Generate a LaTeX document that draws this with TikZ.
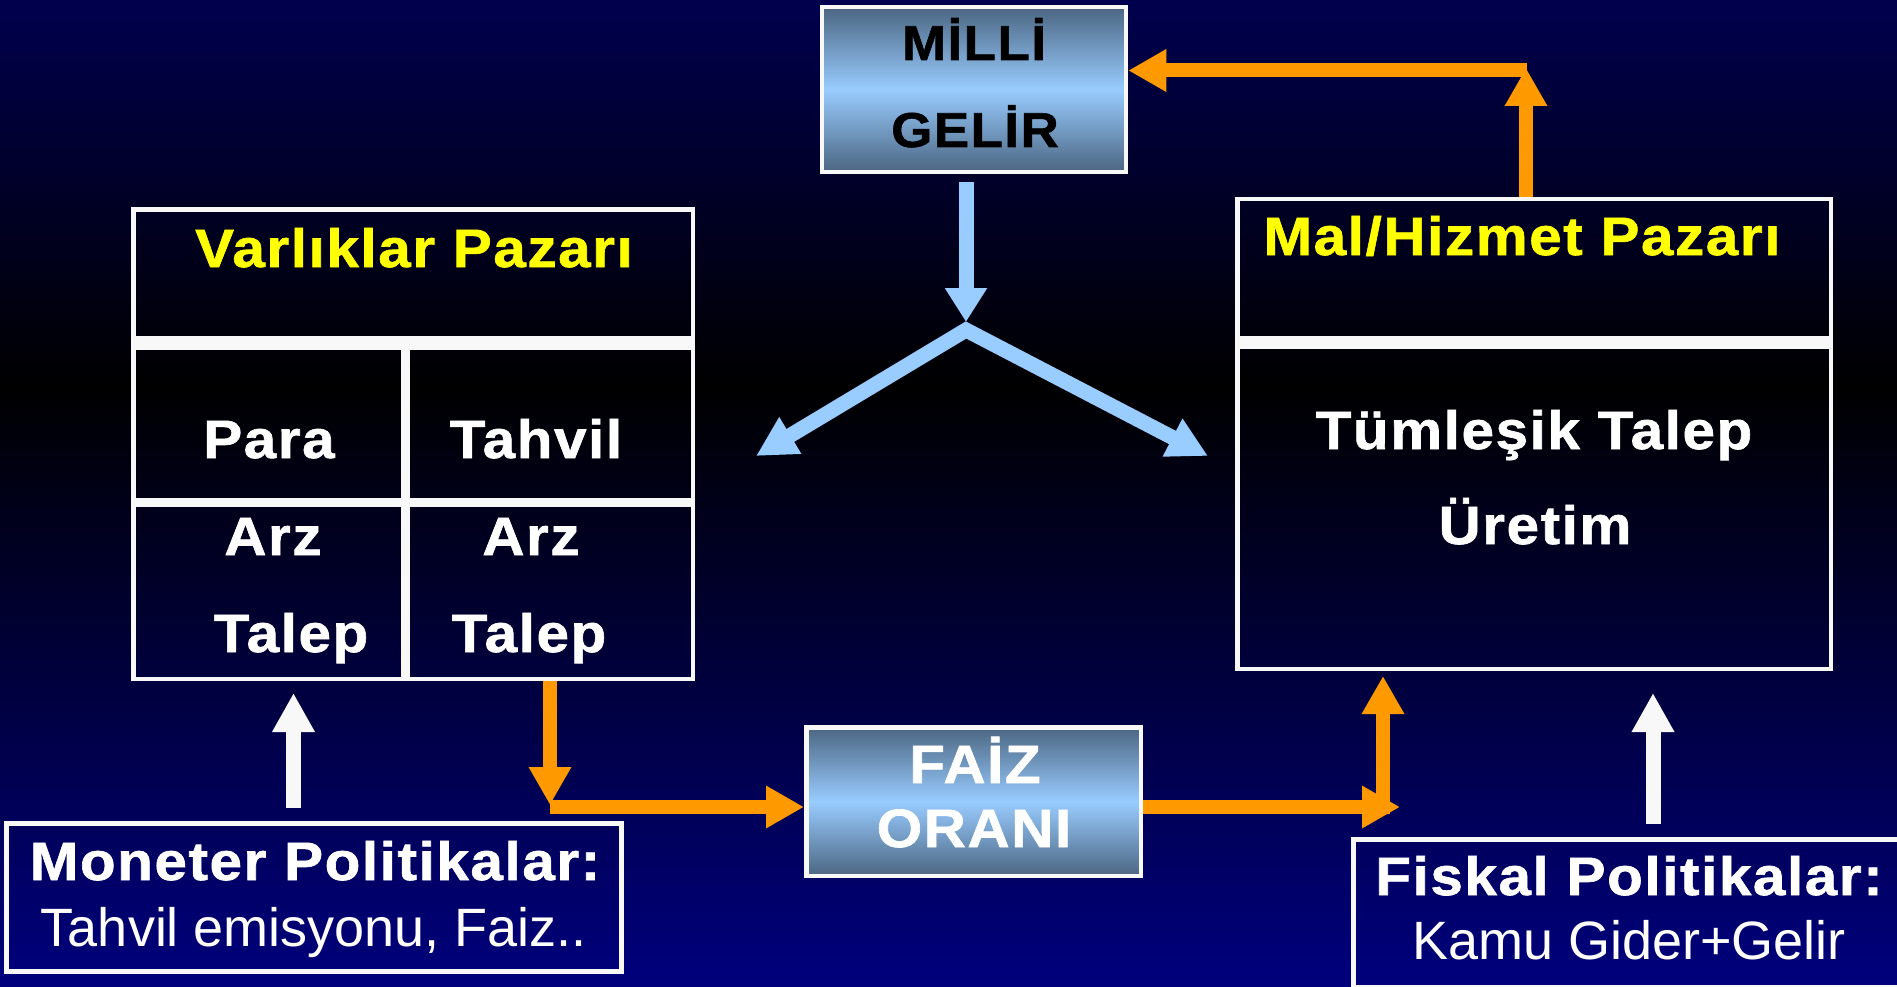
\documentclass[tikz,border=0pt]{standalone}
\usepackage{fontspec}
\setmainfont{Liberation Sans}
\newfontfamily\hdfont[LetterSpace=3,FakeStretch=1.08,FakeBold=1.2]{Liberation Sans Bold}
\usetikzlibrary{arrows.meta,calc}
\definecolor{bgtop}{RGB}{0,0,78}
\definecolor{bgbot}{RGB}{0,0,125}
\definecolor{org}{RGB}{255,153,0}
\definecolor{lblue}{RGB}{153,204,255}
\definecolor{slate}{RGB}{75,102,130}
\definecolor{wht}{RGB}{248,248,248}
\definecolor{yel}{RGB}{255,255,0}
\tikzset{
  hd/.style={font={\hdfont\fontsize{54}{60}\selectfont}, anchor=base, inner sep=0pt},
  hdsmall/.style={font={\hdfont\fontsize{49}{55}\selectfont}, anchor=base, inner sep=0pt},
  rg/.style={font={\fontsize{54}{60}\selectfont}, anchor=base, inner sep=0pt},
  panel/.style={draw=wht, line width=4.5pt, rectangle, inner sep=0pt},
  gbox/.style={draw=wht, line width=4.5pt, rectangle, inner sep=0pt, top color=slate, bottom color=slate, middle color=lblue},
  oarrow/.style={draw=org, line width=14pt, -{Triangle[width=40pt,length=38pt]}},
  warrow/.style={draw=wht, line width=15pt, -{Triangle[width=40pt,length=39pt]}},
  barrow/.style={draw=lblue, line width=15pt, -{Triangle[width=40pt,length=34pt]}},
  bbranch/.style={draw=lblue, line width=15pt, line join=miter, {Triangle[width=40pt,length=40pt]}-{Triangle[width=40pt,length=40pt]}},
}
\begin{document}
\begin{tikzpicture}[x=1pt,y=-1pt]
\useasboundingbox (0,0) rectangle (1897,987);
\clip (0,0) rectangle (1897,987);
% background
\shade[top color=bgtop,bottom color=black] (0,0) rectangle (1897,386);
\shade[top color=black,bottom color=bgbot] (0,385) rectangle (1897,987);

% boxes
\node[gbox, minimum width=304pt, minimum height=165pt] (milli) at (974,89.5) {};
\node[gbox, minimum width=334.5pt, minimum height=148.5pt] (faiz) at (973.5,801.5) {};
\node[panel, minimum width=559.5pt, minimum height=469.5pt] (varl) at (413,444) {};
\node[panel, minimum width=593.5pt, minimum height=469.5pt] (mal) at (1534,434) {};
\node[panel, minimum width=615pt, minimum height=148pt] (mon) at (314,897.5) {};
\node[panel, minimum width=551.5pt, minimum height=148pt] (fis) at (1629.25,913.5) {};

% table grid lines
\fill[wht] (131,336) rectangle (695,350);
\fill[wht] (401,350) rectangle (410,681);
\fill[wht] (131,498) rectangle (695,507);
\fill[wht] (1235,336) rectangle (1833,349);

% texts
\node[hdsmall, text=black] (tmilli) at (974,60) {MİLLİ};
\node[hdsmall, text=black] (tgelir) at (975,147) {GELİR};
\node[hd, text=white] (tfaiz) at (975,783) {FAİZ};
\node[hd, text=white] (torani) at (974,847) {ORANI};
\node[hd, text=yel] (tvarl) at (414,267) {Varlıklar Pazarı};
\node[hd, text=white] (tpara) at (269,458) {Para};
\node[hd, text=white] (ttahvil) at (536,458) {Tahvil};
\node[hd, text=white] (tarz1) at (273,555) {Arz};
\node[hd, text=white] (tarz2) at (531,555) {Arz};
\node[hd, text=white] (ttalep1) at (291,652) {Talep};
\node[hd, text=white] (ttalep2) at (529,652) {Talep};
\node[hd, text=yel] (tmal) at (1522,255) {Mal/Hizmet Pazarı};
\node[hd, text=white] (ttum) at (1534,449) {Tümleşik Talep};
\node[hd, text=white] (turet) at (1535,544) {Üretim};
\node[hd, text=white] (tmon) at (315,880) {Moneter Politikalar:};
\node[rg, text=white] (tmon2) at (314,946) {Tahvil emisyonu, Faiz..};
\node[hd, text=white] (tfis) at (1629,895) {Fiskal Politikalar:};
\node[rg, text=white] (tfis2) at (1629,959) {Kamu Gider+Gelir};

% coordinates for connectors
\coordinate (w1a) at (293.5,808);
\coordinate (w1b) at (293.5,693);
\coordinate (w2a) at (1653,824);
\coordinate (w2b) at (1653,693);
\coordinate (o1) at (550,805);
\coordinate (o1c) at (550,807);
\coordinate (o2) at (1400,807);
\coordinate (o3a) at (1383,814);
\coordinate (o3b) at (1383,676);
\coordinate (o4) at (1526,68);
\coordinate (o4c) at (1527,70.5);
\coordinate (b0) at (966,182);
\coordinate (b1) at (966,322);
\coordinate (bj) at (966,330);
\coordinate (bl) at (756,456);
\coordinate (br) at (1208,456);

% white policy arrows
\draw[warrow] (w1a) -- (w1b);
\draw[warrow] (w2a) -- (w2b);

% orange arrows
\draw[oarrow] (varl.south -| o1) -- (o1);
\draw[oarrow] (o1c) -- (o1c -| faiz.west);
\draw[oarrow] (faiz.east |- o2) -- (o2);
\draw[oarrow] (o3a) -- (o3b);
\draw[oarrow] (mal.north -| o4) -- (o4);
\draw[oarrow] (o4c) -- (o4c -| milli.east);

% blue arrows
\draw[barrow] (b0) -- (b1);
\draw[bbranch] (bl) -- (bj) -- (br);
\end{tikzpicture}
\end{document}
